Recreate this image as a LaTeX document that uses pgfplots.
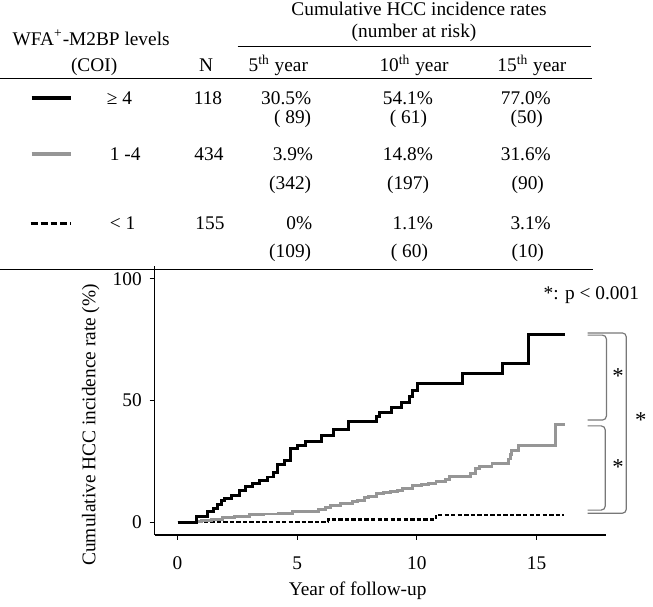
\documentclass[border=0pt]{standalone}
\usepackage{fontspec}
\setmainfont{Liberation Serif}
\usepackage{pgfplots}
\pgfplotsset{compat=1.18}
\definecolor{kmgray}{RGB}{150,150,150}
\definecolor{brgray}{RGB}{120,120,120}

\begin{document}
\fontsize{9.8}{11.5}\selectfont
\begin{tikzpicture}
% ---- table (pixel grid, y downward) ----
\begin{scope}[x=0.5bp,y=-0.5bp]
\useasboundingbox (0,0) rectangle (653,602);
\node[anchor=base] at (423,16) {Cumulative HCC incidence rates};
\node[anchor=base] at (418,37.5) {(number at risk)};
\draw[line width=0.7bp] (240,47) -- (597,47);
\node[anchor=base] at (92,45.5) {WFA\textsuperscript{+}-M2BP levels};
\node[anchor=base] at (95,72.5) {(COI)};
\node[anchor=base] at (208,72.5) {N};
\node[anchor=base] at (281,72.5) {5\textsuperscript{th} year};
\node[anchor=base] at (418,72.5) {10\textsuperscript{th} year};
\node[anchor=base] at (537,72.5) {15\textsuperscript{th} year};
\draw[line width=0.7bp] (0,79) -- (598,79);
% legend samples
\draw[line width=1.6bp,black] (32,99) -- (72,99);
\draw[line width=1.6bp,kmgray] (32,155.5) -- (72,155.5);
\draw[line width=1.6bp,black,dash pattern=on 3.5bp off 1.5bp] (31,225.5) -- (72,225.5);
% row 1
\node[anchor=base west] at (101,105) {≥ 4};
\node[anchor=base] at (210,105) {118};
\node[anchor=base east] at (321,105) {30.5\%};
\node[anchor=base east] at (321,125) {( 89)};
\node[anchor=base east] at (444,105) {54.1\%};
\node[anchor=base east] at (438,125) {( 61)};
\node[anchor=base east] at (563,105) {77.0\%};
\node[anchor=base east] at (555,125) {(50)};
% row 2
\node[anchor=base west] at (104,162) {1 -4};
\node[anchor=base] at (211,162) {434};
\node[anchor=base east] at (323,162) {3.9\%};
\node[anchor=base east] at (321,191) {(342)};
\node[anchor=base east] at (444,162) {14.8\%};
\node[anchor=base east] at (440,191) {(197)};
\node[anchor=base east] at (563,162) {31.6\%};
\node[anchor=base east] at (556,191) {(90)};
% row 3
\node[anchor=base west] at (104,231.5) {< 1};
\node[anchor=base] at (212,231.5) {155};
\node[anchor=base east] at (322,231.5) {0\%};
\node[anchor=base east] at (444,231.5) {1.1\%};
\node[anchor=base east] at (563,231.5) {3.1\%};
\node[anchor=base east] at (321,260) {(109)};
\node[anchor=base east] at (439,260) {( 60)};
\node[anchor=base east] at (556,260) {(10)};
\draw[line width=0.7bp] (0,272) -- (599,272);
\end{scope}

% ---- Kaplan-Meier plot ----
\begin{axis}[
  at={(78bp,-270bp)}, anchor=south west,
  scale only axis, width=227.85bp, height=135.5bp,
  xmin=-0.96, xmax=17.9, ymin=-5.2, ymax=105.1,
  axis lines*=left,
  axis line style={line width=0.7bp},
  tick align=outside, major tick length=2.5bp,
  tick style={line width=0.6bp,black},
  xtick={0,5,10,15}, ytick={0,50,100},
  /pgf/number format/assume math mode=true,
  xticklabel style={yshift=-5bp},
  yticklabel style={xshift=-0.5bp},
  xlabel={Year of follow-up},
  ylabel={Cumulative HCC incidence rate (\%)},
  xlabel style={at={(ticklabel cs:0.45)},yshift=0.5bp},
  ylabel style={at={(ticklabel cs:0.41)}},
  clip=false,
]
% < 1
\addplot[const plot, black, line width=1.2bp, dash pattern=on 2.2bp off 1.1bp] coordinates {
(0,0) (6.3,1.1) (10.8,3.1) (16.15,3.1)};
% 1-4
\addplot[const plot, kmgray, line width=1.5bp] coordinates {
(0,0) (0.8,0.3) (1.0,0.6) (1.4,1.3) (1.9,1.8) (2.4,2.3) (3.0,3.0) (3.6,3.4)
(4.2,3.7) (4.8,4.3) (5.5,4.6) (5.9,5.4) (6.2,6.2) (6.4,6.8) (6.8,7.7)
(7.3,8.4) (7.5,9.1) (7.8,10.0) (8.0,10.4) (8.3,11.8) (8.6,12.2) (8.9,12.7)
(9.2,13.2) (9.4,13.8) (9.8,15.0) (10.2,15.5) (10.5,16.1) (10.8,16.8)
(11.2,17.6) (11.35,19.0) (12.24,19.9) (12.45,22.0) (12.6,23.0) (13.14,24.0)
(13.82,26.0) (13.9,27.8) (13.96,29.4) (14.24,31.7) (15.8,40.0) (16.2,40.0)};
% >= 4
\addplot[const plot, black, line width=1.5bp] coordinates {
(0,0) (0.80,2.2) (1.25,4.3) (1.50,5.7) (1.68,7.3) (1.82,9.1) (1.96,9.9)
(2.24,11.1) (2.58,13.1) (2.86,14.5) (3.13,15.9) (3.41,17.2) (3.75,18.6)
(4.03,20.6) (4.17,23.6) (4.45,25.3) (4.72,30.4) (5.02,31.6) (5.34,33.1)
(6.03,35.5) (6.51,38.2) (7.13,41.6) (8.31,43.4) (8.45,45.2) (8.93,47.0)
(9.34,49.3) (9.69,51.8) (9.80,54.1) (10.03,56.9) (11.92,61.0) (13.59,65.3)
(14.65,77.0) (16.17,77.0)};
% brackets and significance marks
\draw[brgray, line width=0.6bp, rounded corners=2bp]
  (axis cs:17.14,76.9) -- (axis cs:17.92,76.9) -- (axis cs:17.92,42.0) -- (axis cs:17.14,42.0);
\draw[brgray, line width=0.6bp, rounded corners=2bp]
  (axis cs:17.14,39.6) -- (axis cs:17.87,39.6) -- (axis cs:17.87,5.0) -- (axis cs:17.14,5.0);
\draw[brgray, line width=0.6bp, rounded corners=2bp]
  (axis cs:17.14,77.8) -- (axis cs:18.75,77.8) -- (axis cs:18.75,3.7) -- (axis cs:17.14,3.7);
\node[font=\fontsize{11.5}{12}\selectfont] at (axis cs:18.41,59.9) {*};
\node[font=\fontsize{11.5}{12}\selectfont] at (axis cs:18.41,22.5) {*};
\node[font=\fontsize{11.5}{12}\selectfont] at (axis cs:19.36,41.8) {*};
\node at (axis cs:17.29,93.2) {*: p < 0.001};
\end{axis}
\end{tikzpicture}
\end{document}
